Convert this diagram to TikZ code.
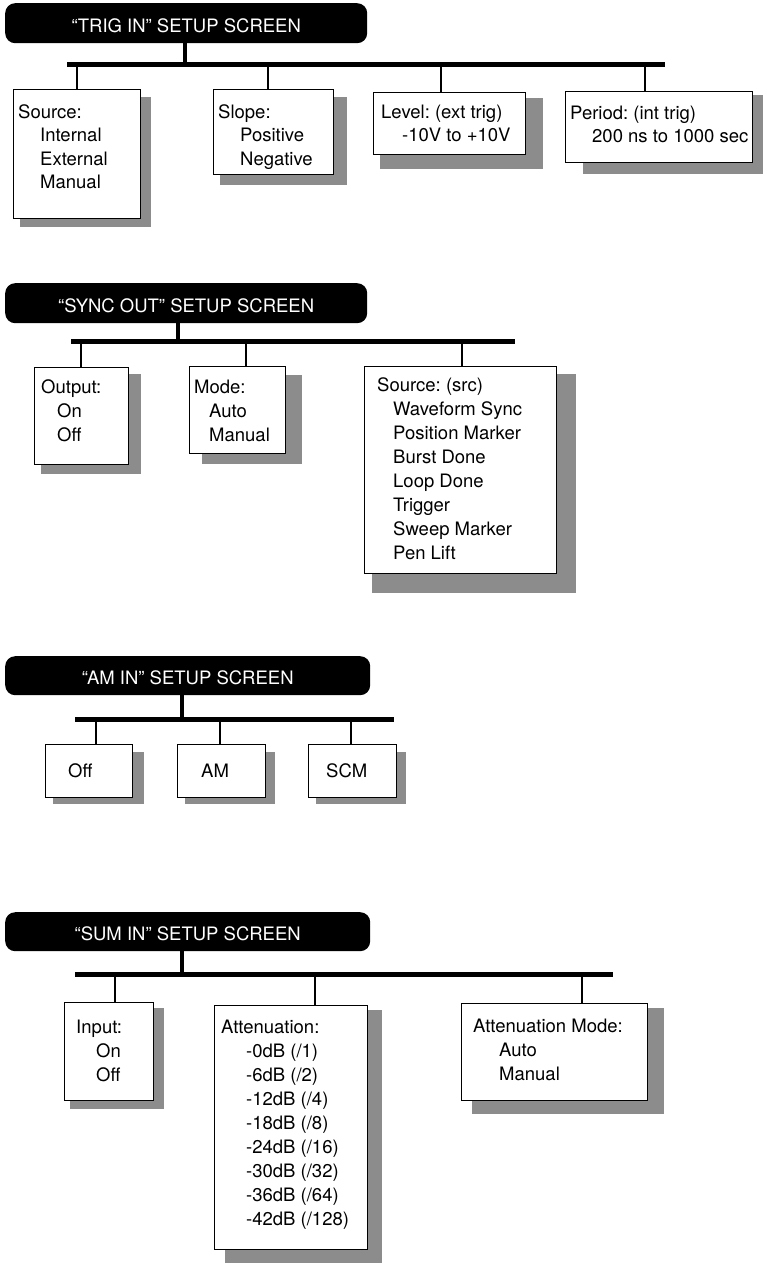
\documentclass[tikz,border=0pt]{standalone}
\usepackage{fontspec}
\setmainfont{TeX Gyre Heros}
\usetikzlibrary{calc,backgrounds}
\definecolor{shadowgray}{gray}{0.55}
\newcommand\mainfs{\fontsize{18.5}{24}\selectfont}
\newcommand\tightfs{\fontsize{18.5}{23.2}\selectfont}
\newcommand\mylines[1]{\begin{tabular}[t]{@{}l@{}}#1\end{tabular}}
\frenchspacing
\begin{document}
\begin{tikzpicture}[x=1pt,y=-1pt,
  titlebar/.style={fill=black, rounded corners=10pt, text=white, font=\mainfs,
    inner sep=0pt, anchor=north west, text height=18.3pt, text depth=0pt},
  panel/.style={draw=black, line width=0.9pt, fill=white, anchor=north west, inner sep=0pt},
  shade/.style={fill=shadowgray},
  bus/.style={line width=4.8pt},
  stem/.style={line width=4.5pt},
  drop/.style={line width=1.8pt},
  txt/.style={anchor=base west, inner sep=0pt, font=\mainfs}
]
\useasboundingbox (0,0) rectangle (763,1269);

% ---------------- TRIG IN ----------------
\node[titlebar, minimum width=362pt, minimum height=40pt] (t1) at (5,3) {“TRIG IN” SETUP SCREEN};
\coordinate (b1l) at (67,64.5);
\coordinate (b1r) at (665,64.5);
\node[panel, minimum width=127pt, minimum height=129pt] (b11) at (13,89) {};
\node[panel, minimum width=120pt, minimum height=85pt] (b12) at (213,89) {};
\node[panel, minimum width=152pt, minimum height=62pt] (b13) at (373,92) {};
\node[panel, minimum width=187pt, minimum height=71pt] (b14) at (565,91) {};
\node[txt, font=\tightfs] (x11) at (18,118.7) {\mylines{Source:\\\hspace*{22pt}Internal\\\hspace*{22pt}External\\\hspace*{22pt}Manual}};
\node[txt, font=\tightfs] (x12) at (218,118.7) {\mylines{Slope:\\\hspace*{22pt}Positive\\\hspace*{22pt}Negative}};
\node[txt, font=\tightfs] (x13) at (381,118.7) {\mylines{Level: (ext trig)\\\hspace*{21pt}-10V to +10V}};
\node[txt, font=\tightfs] (x14) at (570,119.5) {\mylines{Period: (int trig)\\\hspace*{22pt}200 ns to 1000 sec}};

% ---------------- SYNC OUT ----------------
\node[titlebar, minimum width=362pt, minimum height=40pt] (t2) at (5,283) {“SYNC OUT” SETUP SCREEN};
\coordinate (b2l) at (71,341.5);
\coordinate (b2r) at (515,341.5);
\node[panel, minimum width=94pt, minimum height=97pt] (b21) at (34,367) {};
\node[panel, minimum width=96pt, minimum height=87pt] (b22) at (189,366) {};
\node[panel, minimum width=192pt, minimum height=207pt] (b23) at (364,366) {};
\node[txt] (x21) at (41,393.7) {\mylines{Output:\\\hspace*{16pt}On\\\hspace*{16pt}Off}};
\node[txt] (x22) at (194,393.7) {\mylines{Mode:\\\hspace*{15pt}Auto\\\hspace*{15pt}Manual}};
\node[txt] (x23) at (377,391.7) {\mylines{Source: (src)\\\hspace*{16pt}Waveform Sync\\\hspace*{16pt}Position Marker\\\hspace*{16pt}Burst Done\\\hspace*{16pt}Loop Done\\\hspace*{16pt}Trigger\\\hspace*{16pt}Sweep Marker\\\hspace*{16pt}Pen Lift}};

% ---------------- AM IN ----------------
\node[titlebar, minimum width=365pt, minimum height=39pt] (t3) at (5,656) {“AM IN” SETUP SCREEN};
\coordinate (b3l) at (75,719.5);
\coordinate (b3r) at (394,719.5);
\node[panel, minimum width=87pt, minimum height=53pt] (b31) at (45,744) {};
\node[panel, minimum width=88pt, minimum height=53pt] (b32) at (177,744) {};
\node[panel, minimum width=88pt, minimum height=53pt] (b33) at (308,744) {};
\node[txt] (x31) at (68,777.7) {Off};
\node[txt] (x32) at (201,777.7) {AM};
\node[txt] (x33) at (326,777.7) {SCM};

% ---------------- SUM IN ----------------
\node[titlebar, minimum width=365pt, minimum height=39pt] (t4) at (5,912) {“SUM IN” SETUP SCREEN};
\coordinate (b4l) at (75,974.5);
\coordinate (b4r) at (613,974.5);
\node[panel, minimum width=89pt, minimum height=98pt] (b41) at (64,1002) {};
\node[panel, minimum width=153pt, minimum height=244pt] (b42) at (214,1005) {};
\node[panel, minimum width=186pt, minimum height=97pt] (b43) at (461,1003) {};
\node[txt] (x41) at (76,1033.7) {\mylines{Input:\\\hspace*{20pt}On\\\hspace*{20pt}Off}};
\node[txt] (x42) at (221,1033.7) {\mylines{Attenuation:\\\hspace*{25pt}-0dB (/1)\\\hspace*{25pt}-6dB (/2)\\\hspace*{25pt}-12dB (/4)\\\hspace*{25pt}-18dB (/8)\\\hspace*{25pt}-24dB (/16)\\\hspace*{25pt}-30dB (/32)\\\hspace*{25pt}-36dB (/64)\\\hspace*{25pt}-42dB (/128)}};
\node[txt] (x43) at (473,1032.7) {\mylines{Attenuation Mode:\\\hspace*{26pt}Auto\\\hspace*{26pt}Manual}};

% ---------------- shadows ----------------
\begin{scope}[on background layer]
  \fill[shade] ($(b11.north west)+(7,8)$) rectangle ($(b11.south east)+(10,8)$);
  \fill[shade] ($(b12.north west)+(7,8)$) rectangle ($(b12.south east)+(13,10)$);
  \fill[shade] ($(b13.north west)+(7,6)$) rectangle ($(b13.south east)+(17,14)$);
  \fill[shade] ($(b14.north west)+(18,4)$) rectangle ($(b14.south east)+(11,11)$);
  \fill[shade] ($(b21.north west)+(7,7)$) rectangle ($(b21.south east)+(12,9)$);
  \fill[shade] ($(b22.north west)+(13,9)$) rectangle ($(b22.south east)+(16,10)$);
  \fill[shade] ($(b23.north west)+(8,8)$) rectangle ($(b23.south east)+(19,19)$);
  \fill[shade] ($(b31.north west)+(8,8)$) rectangle ($(b31.south east)+(11,6)$);
  \fill[shade] ($(b32.north west)+(8,8)$) rectangle ($(b32.south east)+(9,6)$);
  \fill[shade] ($(b33.north west)+(8,8)$) rectangle ($(b33.south east)+(9,6)$);
  \fill[shade] ($(b41.north west)+(6,6)$) rectangle ($(b41.south east)+(10,8)$);
  \fill[shade] ($(b42.north west)+(11,5)$) rectangle ($(b42.south east)+(14,13)$);
  \fill[shade] ($(b43.north west)+(11,5)$) rectangle ($(b43.south east)+(16,13)$);
\end{scope}

% ---------------- stems ----------------
\coordinate (s1) at ($(t1.south)+(-1,0)$);
\coordinate (s2) at ($(t2.south)+(-8,0)$);
\coordinate (s3) at ($(t3.south)+(-5.5,0)$);
\coordinate (s4) at ($(t4.south)+(-5.5,0)$);
\draw[stem] (s1) -- (s1 |- b1l);
\draw[stem] (s2) -- (s2 |- b2l);
\draw[stem] (s3) -- (s3 |- b3l);
\draw[stem] (s4) -- (s4 |- b4l);

% ---------------- drops ----------------
\coordinate (d11) at ($(b11.north west)+(64,0)$);
\coordinate (d12) at ($(b12.north west)+(55,0)$);
\coordinate (d13) at ($(b13.north west)+(68,0)$);
\coordinate (d14) at ($(b14.north west)+(80,0)$);
\coordinate (d21) at ($(b21.north west)+(47,0)$);
\coordinate (d22) at ($(b22.north west)+(57,0)$);
\coordinate (d23) at ($(b23.north west)+(98,0)$);
\coordinate (d31) at ($(b31.north west)+(51,0)$);
\coordinate (d32) at ($(b32.north west)+(43,0)$);
\coordinate (d33) at ($(b33.north west)+(43,0)$);
\coordinate (d41) at ($(b41.north west)+(51,0)$);
\coordinate (d42) at ($(b42.north west)+(101,0)$);
\coordinate (d43) at ($(b43.north west)+(121,0)$);
\foreach \d/\b in {d11/b1l,d12/b1l,d13/b1l,d14/b1l,d21/b2l,d22/b2l,d23/b2l,d31/b3l,d32/b3l,d33/b3l,d41/b4l,d42/b4l,d43/b4l}
  \draw[drop] (\d) -- (\d |- \b);

% ---------------- buses ----------------
\draw[bus] (b1l) -- (b1r);
\draw[bus] (b2l) -- (b2r);
\draw[bus] (b3l) -- (b3r);
\draw[bus] (b4l) -- (b4r);
\end{tikzpicture}
\end{document}
